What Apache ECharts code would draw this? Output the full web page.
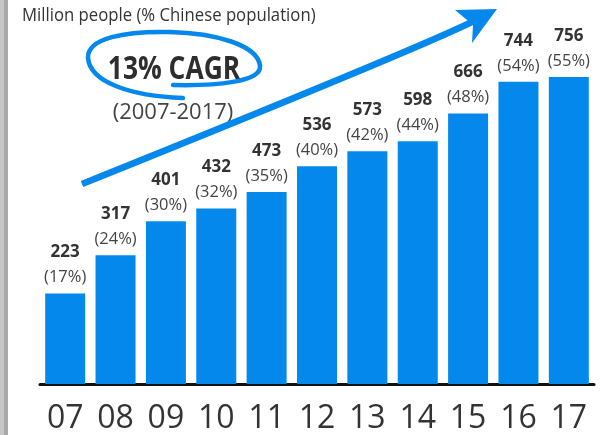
<!DOCTYPE html>
<html>
<head>
<meta charset="utf-8">
<script src="https://cdn.jsdelivr.net/npm/echarts@6/dist/echarts.min.js"></script>
<style>
  html, body { margin: 0; padding: 0; background: #fff; }
  #chart { width: 606px; height: 435px; }
</style>
</head>
<body>
<div id="chart"></div>
<script>
// Internet users in China, 2007-2017
const years = ['07', '08', '09', '10', '11', '12', '13', '14', '15', '16', '17'];
const users = [223, 317, 401, 432, 473, 536, 573, 598, 666, 744, 756];   // million people
const shares = [17, 24, 30, 32, 35, 40, 42, 44, 48, 54, 55];              // % of population

const titleText = 'Million people (% Chinese population)';
const cagrText = '13% CAGR';
const periodText = '(2007-2017)';

const BLUE = '#0588ec';
const FONT = '"Open Sans", "Noto Sans", sans-serif';

// hand-drawn loop around the CAGR figure, as cubic segments
const loopSegments = [
  [183, 98, 130, 96, 90, 82, 88, 58],
  [88, 58, 87, 38, 125, 31, 170, 32],
  [170, 32, 215, 33, 258, 45, 260, 66],
  [260, 66, 262, 82, 215, 86, 173, 85]
];

const chart = echarts.init(document.getElementById('chart'), null, { renderer: 'canvas' });

const loopGraphics = loopSegments.map(s => ({
  type: 'bezierCurve',
  shape: { x1: s[0], y1: s[1], cpx1: s[2], cpy1: s[3], cpx2: s[4], cpy2: s[5], x2: s[6], y2: s[7] },
  style: { fill: null, stroke: BLUE, lineWidth: 4.5, lineCap: 'round' },
  silent: true
}));

chart.setOption({
  animation: false,
  backgroundColor: '#ffffff',
  grid: { left: 40, right: 12, top: 18.5, bottom: 49 },
  xAxis: {
    type: 'category',
    data: years,
    axisLine: { show: true, lineStyle: { color: '#111', width: 3 } },
    axisTick: { show: false },
    axisLabel: { fontFamily: FONT, fontSize: 32, color: '#333', margin: 19 }
  },
  yAxis: {
    type: 'value',
    min: 0,
    max: 900,
    show: false,
    splitLine: { show: false }
  },
  series: [{
    type: 'bar',
    data: users,
    barWidth: 40,
    itemStyle: { color: BLUE },
    label: {
      show: true,
      position: 'top',
      distance: 4,
      formatter: p => '{v|' + users[p.dataIndex] + '}\n{p|(' + shares[p.dataIndex] + '%)}',
      rich: {
        v: { fontFamily: FONT, fontSize: 17, fontWeight: 'bold', color: '#333', lineHeight: 26 },
        p: { fontFamily: FONT, fontSize: 16.5, color: '#444', lineHeight: 24 }
      }
    }
  }],
  graphic: [
    // page edge strip
    { type: 'rect', shape: { x: 0, y: 0, width: 4, height: 435 }, style: { fill: '#c6c6c6' }, silent: true },
    { type: 'rect', shape: { x: 4, y: 0, width: 4, height: 435 }, style: { fill: '#a9a9a9' }, silent: true },
    // heading
    {
      type: 'text', x: 22, y: 16, scaleX: 0.88, originX: 0, originY: 0,
      style: { text: titleText, font: '19px ' + FONT, fill: '#333', textAlign: 'left', textVerticalAlign: 'middle' }
    },
    // growth annotation
    {
      type: 'text', x: 174, y: 70, scaleX: 0.8, originX: 0, originY: 0,
      style: { text: cagrText, font: 'bold 33px ' + FONT, fill: '#2e2e2e', textAlign: 'center', textVerticalAlign: 'middle' }
    },
    {
      type: 'text', x: 173, y: 113,
      style: { text: periodText, font: '22px ' + FONT, fill: '#444', textAlign: 'center', textVerticalAlign: 'middle' }
    },
    ...loopGraphics,
    // upward trend arrow
    {
      type: 'bezierCurve',
      shape: { x1: 82, y1: 184, x2: 476, y2: 20, cpx1: 420, cpy1: 48 },
      style: { fill: null, stroke: BLUE, lineWidth: 6.5 },
      silent: true
    },
    {
      type: 'polygon',
      shape: { points: [[455, 10], [497, 9], [472, 43], [473, 25]] },
      style: { fill: BLUE },
      silent: true
    }
  ]
});
</script>
</body>
</html>
